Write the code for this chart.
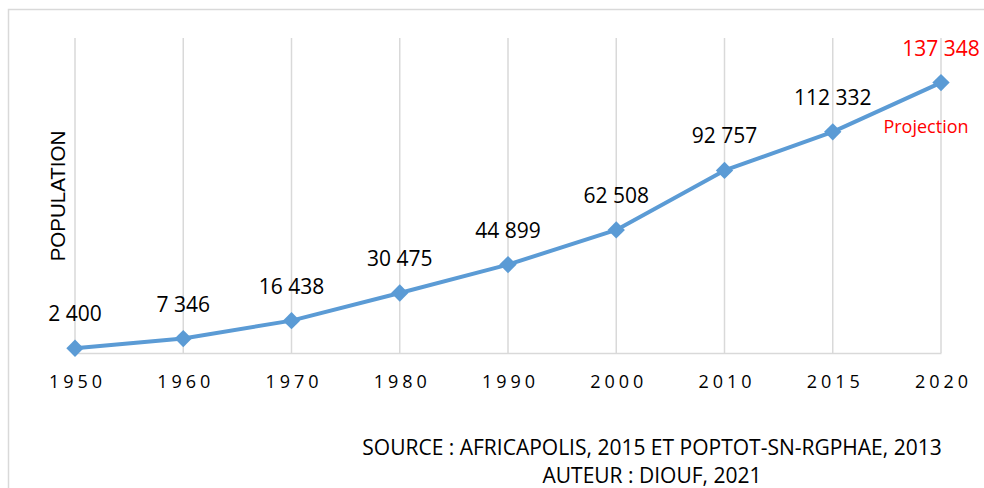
<!DOCTYPE html>
<html>
<head>
<meta charset="utf-8">
<script src="https://cdn.jsdelivr.net/npm/d3@7"></script>
<style>
    body { margin: 0; background: #fff; }
    svg { display: block; }
</style>
</head>
<body>
<div id="chart"></div>
<script>
const LINE_COLOR = "#5B9BD5";
const GRID_COLOR = "#D9D9D9";
const PROJ_COLOR = "#FF0000";

const years = ["1950", "1960", "1970", "1980", "1990", "2000", "2010", "2015", "2020"];
const population = [2400, 7346, 16438, 30475, 44899, 62508, 92757, 112332, 137348];
const labels = ["2 400", "7 346", "16 438", "30 475", "44 899", "62 508", "92 757", "112 332", "137 348"];
const projectedYears = ["2020"];
const yMax = 160000;

const width = 984;
const height = 488;

const margin = {
    top: 38,
    right: 43,
    bottom: 135,
    left: 75
};

const svg = d3
    .select("#chart")
    .append("svg")
    .attr("width", width)
    .attr("height", height);

// outer frame (goes off the right and bottom edges)
svg
    .append("rect")
    .attr("x", 8.5)
    .attr("y", 9.5)
    .attr("width", width + 20)
    .attr("height", height + 20)
    .attr("fill", "none")
    .attr("stroke", GRID_COLOR)
    .attr("stroke-width", 1.5);

const x = d3
    .scalePoint()
    .domain(years)
    .range([margin.left, width - margin.right]);

const y = d3
    .scaleLinear()
    .domain([0, yMax])
    .range([height - margin.bottom, margin.top]);

// vertical gridlines
svg
    .append("g")
    .attr("class", "grid")
    .selectAll("line")
    .data(years)
    .join("line")
    .attr("x1", d => x(d))
    .attr("x2", d => x(d))
    .attr("y1", y(yMax))
    .attr("y2", y(0))
    .attr("stroke", GRID_COLOR)
    .attr("stroke-width", 1.5);

// x axis
const xAxis = d3
    .axisBottom(x)
    .tickSize(0)
    .tickPadding(22);

const gx = svg
    .append("g")
    .attr("transform", "translate(0," + y(0) + ")")
    .call(xAxis);

gx.select(".domain")
    .attr("stroke", GRID_COLOR)
    .attr("stroke-width", 1.5);

gx.selectAll("text")
    .attr("font-family", "'Open Sans', sans-serif")
    .attr("font-size", 18)
    .attr("fill", "#000")
    .attr("dx", 2)
    .style("letter-spacing", "4px");

// y axis title
svg
    .append("text")
    .text("POPULATION")
    .attr("transform", "translate(65, 196) rotate(-90)")
    .attr("text-anchor", "middle")
    .attr("font-family", "'Liberation Sans', Arial, sans-serif")
    .attr("font-size", 20.5)
    .attr("fill", "#000");

const data = years.map((yr, i) => ({ year: yr, value: population[i], label: labels[i] }));

const line = d3
    .line()
    .x(d => x(d.year))
    .y(d => y(d.value));

svg
    .append("path")
    .datum(data)
    .attr("d", line)
    .attr("fill", "none")
    .attr("stroke", LINE_COLOR)
    .attr("stroke-width", 4)
    .attr("stroke-linejoin", "round");

svg
    .append("g")
    .attr("class", "markers")
    .selectAll("path")
    .data(data)
    .join("path")
    .attr("d", d3.symbol(d3.symbolSquare, 150))
    .attr("transform", d => "translate(" + x(d.year) + "," + y(d.value) + ") rotate(45)")
    .attr("fill", LINE_COLOR);

svg
    .append("g")
    .attr("class", "labels")
    .selectAll("text")
    .data(data)
    .join("text")
    .attr("x", d => x(d.year))
    .attr("y", d => y(d.value) - 27)
    .attr("text-anchor", "middle")
    .attr("font-family", "'Open Sans', sans-serif")
    .attr("font-size", 21)
    .attr("fill", d => projectedYears.includes(d.year) ? PROJ_COLOR : "#000")
    .text(d => d.label);

const last = data[data.length - 1];
svg
    .append("text")
    .text("Projection")
    .attr("x", x(last.year) - 15)
    .attr("y", y(last.value) + 50)
    .attr("text-anchor", "middle")
    .attr("font-family", "'Open Sans', sans-serif")
    .attr("font-size", 18)
    .attr("fill", PROJ_COLOR);

// source / author
svg
    .append("text")
    .text("SOURCE : AFRICAPOLIS, 2015 ET POPTOT-SN-RGPHAE, 2013")
    .attr("x", 652)
    .attr("y", 455)
    .attr("text-anchor", "middle")
    .attr("font-family", "'Open Sans', sans-serif")
    .attr("font-size", 21)
    .attr("fill", "#000");

svg
    .append("text")
    .text("AUTEUR : DIOUF, 2021")
    .attr("x", 652)
    .attr("y", 483)
    .attr("text-anchor", "middle")
    .attr("font-family", "'Open Sans', sans-serif")
    .attr("font-size", 21)
    .attr("fill", "#000");
</script>
</body>
</html>
